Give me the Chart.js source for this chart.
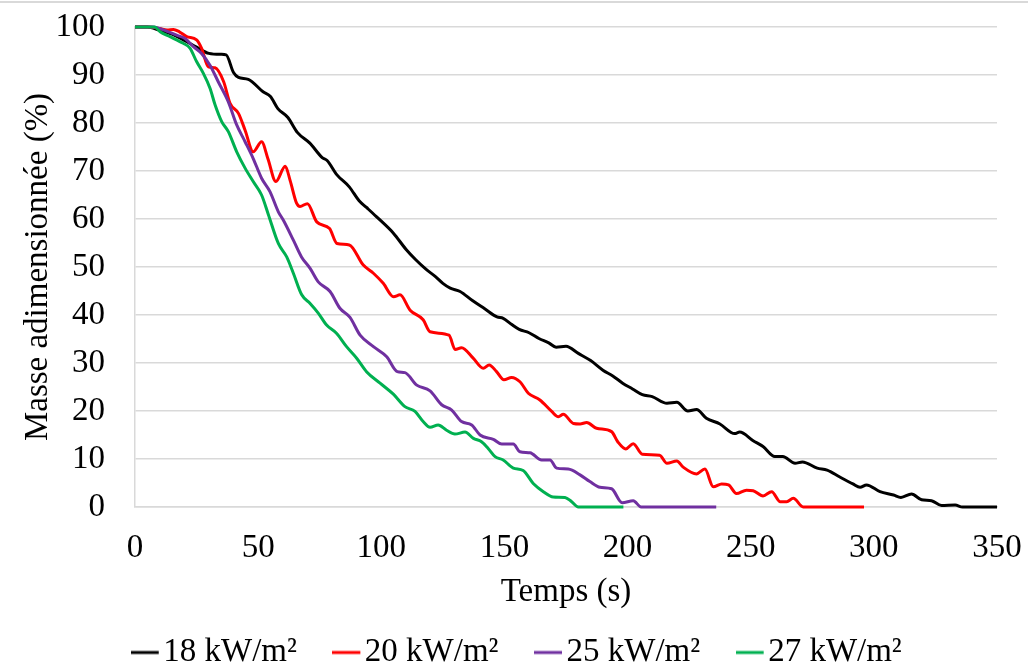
<!DOCTYPE html>
<html>
<head>
<meta charset="utf-8">
<script src="https://cdn.jsdelivr.net/npm/chart.js@4.4.1/dist/chart.umd.min.js"></script>
<style>
  html, body { margin: 0; padding: 0; background: #ffffff; }
  #wrap { position: relative; width: 1028px; height: 663px; }
  #wrap::before { content: ''; position: absolute; left: 0; top: 1px; width: 1028px; height: 1.5px; background: #d9d9d9; }
  canvas { display: block; }
</style>
</head>
<body>
<div id="wrap"><canvas id="c" width="1028" height="663"></canvas></div>
<script>
// ---- Data ----
const seriesLabels = ['18 kW/m²', '20 kW/m²', '25 kW/m²', '27 kW/m²'];
const seriesColors = ['#000000', '#ff0000', '#7030a0', '#00b050'];

const t18 = [0,5,10,15,20,25,30,35,37,40,42,46,52,55,58,62,66,71,76,78,82,87,91,94,98,105,110,114,118,122,125,128,132,137,142,147,149.5,153,156,160,164,168,171,175,180,185,190,194,198,202,206,210,216,220,224.5,228,232,237.5,243.5,245.5,251,255,259.8,263,268,271,277,281,286,291.5,294.4,297,302.5,308,311,315.3,319.4,323.4,327.5,333,336,350];
const m18 = [100,100,99.3,98.5,97.2,95.8,94.5,94.3,94.2,90.5,89.5,89.1,86.5,85.5,83,81.2,78,75.8,72.8,72.2,69.2,66.7,63.8,62.4,60.5,57,53.7,51.5,49.6,48,46.6,45.6,44.9,43,41.3,39.6,39.3,38,37,36.3,35.1,34.2,33.3,33.5,32,30.5,28.5,27.3,25.8,24.6,23.4,23,21.6,21.8,20,20.3,18.5,17.3,15.3,15.6,13.8,12.6,10.5,10.5,9.1,9.4,8.1,7.7,6.3,4.8,4.1,4.6,3.2,2.5,2,2.7,1.5,1.3,0.3,0.4,0,0];

const t20 = [0,5,10,13,15.6,18,21,25,27,29.8,32.5,36,38.6,42,44.7,48,51.4,54,57.2,61,63,65.6,67,70,73.8,79,82,87,92.7,96.8,100.8,105,107.6,111.7,117,119.8,127.5,130,132.6,137.3,141.4,143.8,146.8,149.8,152.9,156.3,159.7,164.4,169.2,171.9,173.9,178,180.7,183.4,187.4,193.5,196,199.3,202.3,206,213,216,220,222.6,228,231.4,234.8,238.2,241,244.2,248.3,251,255,258.5,262,264.6,267.3,271.3,296];
const m20 = [100,100,99.7,99.4,99.5,99,98,97.3,95.6,91.7,91.5,88.6,84.1,82,78.5,74,76.1,72.5,67.8,71,68,63.3,62.6,63.2,59.4,58,54.9,54.6,50.4,48.7,46.6,43.8,44.2,41,39,36.5,35.8,32.8,33.2,31,28.9,29.6,28.2,26.5,27,26.1,23.7,22.3,19.9,18.8,19.3,17.4,17.3,17.6,16.4,15.7,13.6,12.1,13.2,11,10.8,9.1,9.6,8.3,6.9,7.9,4.2,4.8,4.6,2.8,3.5,3.4,2.3,3.2,1.1,1.1,1.8,0,0];

const t25 = [0,7.4,11.5,16.9,20.3,23.7,27,30.5,33.8,37.9,41.3,44.7,48,51.4,54.8,58.2,60.2,64.3,67.6,71.1,74.4,79.2,83.2,87.3,91.4,96.8,102.2,106.5,109.6,114.4,119.8,124.5,128.6,132.6,136.7,140.1,145.5,148.9,153.6,156.3,160.4,165.1,168.5,171.2,175.9,180.7,184.7,188.8,193.5,197.8,202.3,205.5,236];
const m25 = [100,100,99.4,98.3,97.6,95.9,94.5,92,88.6,84.4,79.6,76.1,72.6,68.5,65.7,61.5,59.8,55.6,52.1,49.7,46.9,44.9,41.4,39.5,35.8,33.4,31.3,28.2,28,25.4,24.2,21.3,20.2,17.8,17.1,15,14.1,13.1,13.1,11.5,11.3,9.8,9.8,8.1,7.9,6.7,5.3,4.1,3.8,0.9,1.3,0,0];

const t27 = [0,8,10.2,14.2,16.9,19.6,22.3,25,27.7,30.5,32.5,35.2,37.9,41.3,44.7,48,51.4,54.1,58.2,61.6,64.3,67.7,71.1,74.4,77.8,81.8,85.9,90,94,99.5,104.9,109.6,113.7,117,119.8,123.1,126.5,129.9,134,137.4,140.7,143.4,146.2,149.5,153.6,157.6,161.7,165.8,169.8,174.6,177.3,180,198.3];
const m27 = [100,100,99,98,97.3,96.6,95.6,92.8,90.4,87.2,83.8,80.3,78.2,74,70.6,67.8,65,61,54.9,52.1,48.7,44.2,42.4,40.4,37.9,36.2,33.4,31,28.2,25.8,23.5,20.9,19.9,17.8,16.6,17.1,16,15.2,15.6,14.3,13.6,12.2,10.5,9.8,8.1,7.6,4.9,3.2,2.1,2,1.1,0,0];

const xTicks = [0, 50, 100, 150, 200, 250, 300, 350];
const yTicks = [0, 10, 20, 30, 40, 50, 60, 70, 80, 90, 100];
const xTitle = 'Temps (s)';
const yTitle = 'Masse adimensionnée (%)';

// ---- Build datasets ----
const times = [t18, t20, t25, t27];
const masses = [m18, m20, m25, m27];
const FONT = '"Liberation Serif", "Times New Roman", serif';

// legend line marker (short horizontal line), drawn as a small canvas used as point style
function lineMarker(color) {
  const c = document.createElement('canvas');
  c.width = 30; c.height = 6;
  const g = c.getContext('2d');
  g.fillStyle = color;
  g.fillRect(0, 1.5, 28, 3);
  return c;
}

function noScalePadding(s) {
  s.paddingTop = 0; s.paddingBottom = 0; s.paddingLeft = 0; s.paddingRight = 0;
}

const datasets = seriesLabels.map((lab, i) => ({
  label: lab,
  data: times[i].map((t, k) => ({ x: t, y: masses[i][k] })),
  borderColor: seriesColors[i],
  backgroundColor: seriesColors[i],
  borderWidth: 3,
  pointRadius: 0,
  pointHoverRadius: 0,
  fill: false,
  cubicInterpolationMode: 'monotone',
  clip: 6,
  order: 3 - i
}));

new Chart(document.getElementById('c'), {
  type: 'line',
  data: { datasets },
  options: {
    responsive: false,
    animation: false,
    events: [],
    layout: { padding: { left: 49.5, right: 31, top: 27, bottom: -16 } },
    plugins: {
      tooltip: { enabled: false },
      legend: {
        position: 'bottom',
        labels: {
          color: '#000000',
          font: { family: FONT, size: 33 },
          usePointStyle: true,
          pointStyleWidth: 2,
          boxHeight: 6,
          padding: 49.5,
          generateLabels: (chart) => chart.data.datasets.map((ds, i) => ({
            text: ds.label,
            fillStyle: ds.borderColor,
            strokeStyle: ds.borderColor,
            lineWidth: 0,
            pointStyle: lineMarker(ds.borderColor),
            hidden: false,
            datasetIndex: i,
            fontColor: '#000000'
          }))
        }
      }
    },
    scales: {
      x: {
        type: 'linear',
        min: 0, max: 350,
        afterBuildTicks: (s) => { s.ticks = xTicks.map(v => ({ value: v })); },
        afterFit: (s) => { s.height = 79.5; noScalePadding(s); },
        grid: { display: false, drawTicks: false },
        border: { display: true, color: '#d9d9d9', width: 1.5 },
        ticks: { color: '#000000', font: { family: FONT, size: 33 }, padding: 22, maxRotation: 0 },
        title: { display: true, text: xTitle, color: '#000000', font: { family: FONT, size: 33 }, padding: { top: 0, bottom: -25.5 } }
      },
      y: {
        type: 'linear',
        min: 0, max: 100,
        afterBuildTicks: (s) => { s.ticks = yTicks.map(v => ({ value: v })); },
        afterFit: (s) => { s.width = 85.5; noScalePadding(s); },
        grid: { color: '#d9d9d9', lineWidth: 1.5, drawTicks: false },
        border: { display: true, color: '#d9d9d9', width: 1.5 },
        ticks: { color: '#000000', font: { family: FONT, size: 33 }, padding: 30 },
        title: { display: true, text: yTitle, color: '#000000', font: { family: FONT, size: 33 }, padding: { top: -31.3, bottom: 0 } }
      }
    }
  }
});
</script>
</body>
</html>
